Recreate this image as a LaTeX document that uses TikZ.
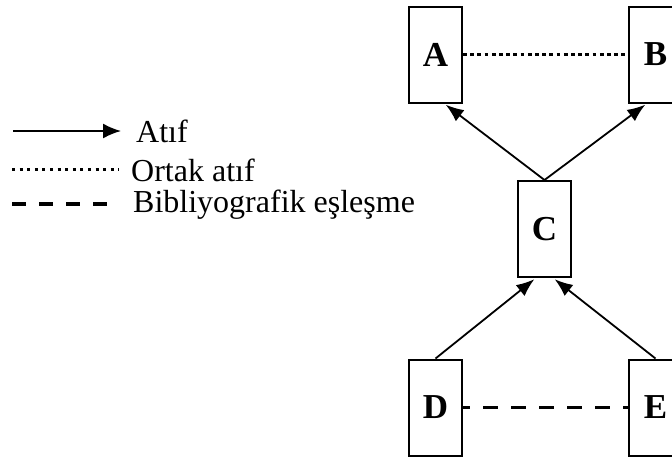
\documentclass[tikz,border=0pt]{standalone}
\usepackage{fontspec}
\setmainfont{Liberation Serif}
\usetikzlibrary{positioning,arrows.meta}

\begin{document}
\begin{tikzpicture}[x=1pt,y=-1pt,
        paper/.style={rectangle,draw,line width=2pt,minimum width=53pt,minimum height=96pt,inner sep=0pt,font=\fontsize{35}{40}\selectfont\bfseries},
        legtext/.style={anchor=west,inner sep=0pt,font=\fontsize{32}{36}\selectfont},
        cite/.style={line width=1.8pt,-{Latex[length=18pt,width=14pt]},shorten >=2pt},
        cocite/.style={line width=3.8pt,dash pattern=on 3.8pt off 3.4pt},
        coupling/.style={line width=3.8pt,dash pattern=on 15pt off 13pt}]
        \useasboundingbox (0,0) rectangle (672,459);

        \node[paper] (A) at (435.5,54.5) {A};
        \node[paper] (B) [right=165pt of A] {B};
        \node[paper] (C) at (544.5,229) {C};
        \node[paper] (D) [below=255pt of A] {D};
        \node[paper] (E) [right=165pt of D] {E};

        \draw[cite] (C.north)--(A.-80);
        \draw[cite] (C.north)--(B.-100);
        \draw[cite] (D.north)--(C.-100);
        \draw[cite] (E.north)--(C.-80);
        \draw[cocite] (A.east)--(B.west);
        \draw[coupling,dash phase=8pt] (D.east)--(E.west);

        % legend
        \node[legtext] (atif) at (136,131) {Atıf};
        \node[legtext] (ortak) at (131,170) {Ortak atıf};
        \node[legtext] (biblio) at (133,205) {Bibliyografik eşleşme};
        \coordinate (atifs) at (13,131);
        \coordinate (atife) at (121,131);
        \coordinate (ortaks) at (12,169);
        \coordinate (ortake) at (119,169);
        \coordinate (biblios) at (12,204);
        \coordinate (biblioe) at (111,204);
        \draw[line width=1.8pt,-{Latex[length=18pt,width=15pt]}] (atifs)--(atife);
        \draw[line width=3pt,dash pattern=on 3pt off 4.6pt] (ortaks)--(ortake);
        \draw[line width=3.8pt,dash pattern=on 14pt off 13pt] (biblios)--(biblioe);
    \end{tikzpicture}
\end{document}
